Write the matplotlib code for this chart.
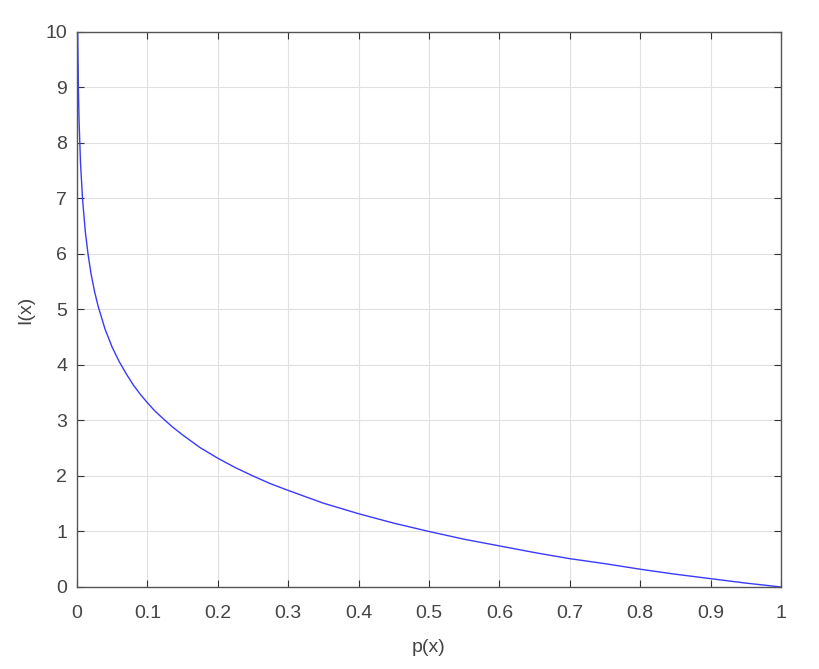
import matplotlib
matplotlib.use('Agg')
import matplotlib.pyplot as plt

# values
p_values = [0.001, 0.002, 0.003, 0.005, 0.008, 0.012, 0.016, 0.02, 0.025, 0.03,
            0.04, 0.05, 0.06, 0.07, 0.08, 0.09, 0.1, 0.11, 0.12, 0.135, 0.15, 0.175,
            0.2, 0.225, 0.25, 0.275, 0.3, 0.35, 0.4, 0.45, 0.5, 0.55, 0.6, 0.65,
            0.7, 0.75, 0.8, 0.85, 0.9, 0.95, 1.0]
i_values = [9.97, 8.97, 8.38, 7.64, 6.97, 6.38, 5.97, 5.64, 5.32, 5.06,
            4.64, 4.32, 4.06, 3.84, 3.64, 3.47, 3.32, 3.18, 3.06, 2.89, 2.74, 2.51,
            2.32, 2.15, 2.0, 1.86, 1.74, 1.51, 1.32, 1.15, 1.0, 0.86, 0.74, 0.62,
            0.51, 0.42, 0.32, 0.23, 0.15, 0.07, 0.0]
x_ticks = [0, 0.1, 0.2, 0.3, 0.4, 0.5, 0.6, 0.7, 0.8, 0.9, 1]
x_tick_labels = ['0', '0.1', '0.2', '0.3', '0.4', '0.5', '0.6', '0.7', '0.8', '0.9', '1']
y_ticks = list(range(0, 11))

plt.rcParams['font.family'] = ['Liberation Sans', 'DejaVu Sans']

fig = plt.figure(figsize=(8.19, 6.69), dpi=100)
ax = fig.add_axes([0.094, 0.1226, 0.8596, 0.8296])

ax.plot(p_values, i_values, color='#3a3aff', linewidth=1.0)

ax.set_xlim(0, 1)
ax.set_ylim(0, 10)
ax.set_xticks(x_ticks)
ax.set_xticklabels(x_tick_labels)
ax.set_yticks(y_ticks)
ax.grid(True, color='#e0e0e0', linewidth=0.8)
ax.set_axisbelow(True)

ax.tick_params(direction='in', length=5, width=0.8, colors='#333333',
               labelcolor='#444444', labelsize=14, top=True, right=True)
ax.tick_params(axis='x', pad=13)
ax.tick_params(axis='y', pad=7)
for s in ax.spines.values():
    s.set_color('#555555')
    s.set_linewidth(1.0)

ax.set_xlabel('p(x)', fontsize=14, color='#444444', labelpad=12)
ax.set_ylabel('I(x)', fontsize=14, color='#444444', labelpad=8)

fig.savefig('out.png', dpi=100, facecolor='white')
